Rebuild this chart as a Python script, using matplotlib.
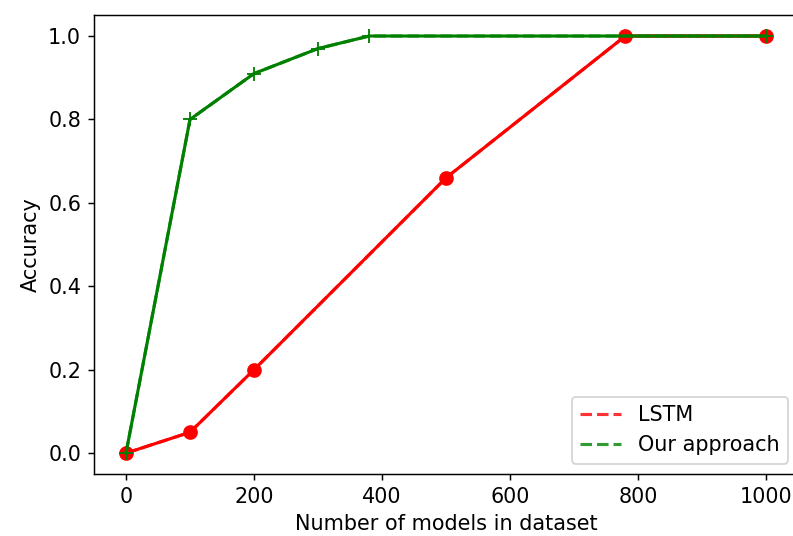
import matplotlib
matplotlib.use("Agg")
import matplotlib.pyplot as plt

# LSTM results
lstm_x = [0, 100, 200, 500, 780, 1000]
lstm_acc = [0.0, 0.05, 0.20, 0.66, 1.0, 1.0]

# our approach
ours_x = [0, 100, 200, 300, 380, 1000]
ours_acc = [0.0, 0.80, 0.91, 0.97, 1.0, 1.0]

plt.rcParams['font.size'] = 11.3

fig = plt.figure(figsize=(793 / 132, 536 / 132), dpi=132)
ax = fig.add_axes([0.1185, 0.1157, 0.888, 0.856])

# dashed lines carry the legend, solid lines carry the markers
ax.plot(lstm_x, lstm_acc, 'r--', alpha=0.8, lw=1.7, label='LSTM')
ax.plot(lstm_x, lstm_acc, 'ro-', lw=1.7, ms=7)
ax.plot(ours_x, ours_acc, 'g--', alpha=0.8, lw=1.7, label='Our approach')
ax.plot(ours_x, ours_acc, 'g+-', lw=1.7, ms=8)

# picture is cut off at the right edge
ax.spines['right'].set_visible(False)

ax.set_xlabel('Number of models in dataset')
ax.set_ylabel('Accuracy')
ax.legend(loc='lower right')

fig.savefig('out.png', dpi=132)
